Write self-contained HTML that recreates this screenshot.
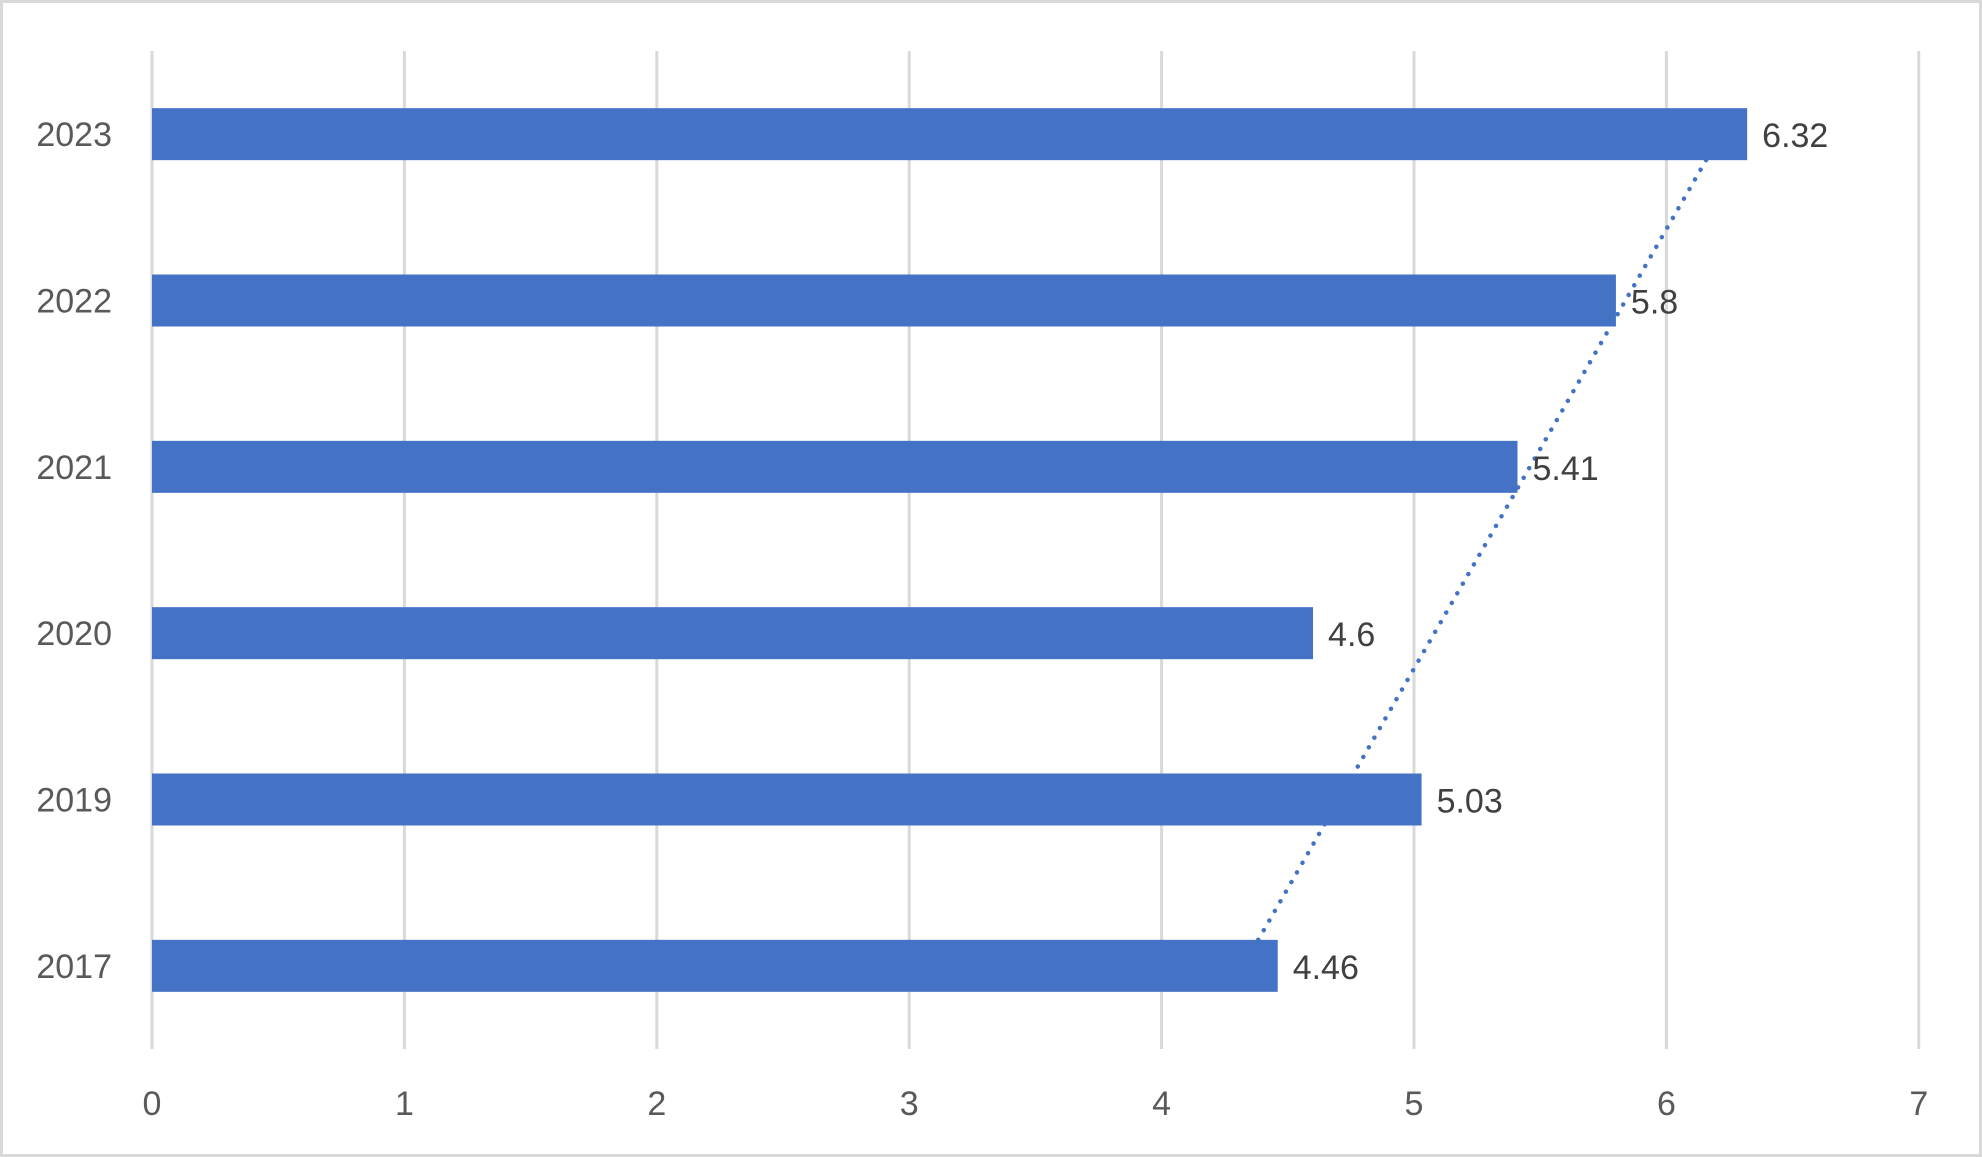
<!DOCTYPE html>
<html><head><meta charset="utf-8"><style>
html,body{margin:0;padding:0;background:#fff}
svg{display:block}
text{font-family:"Liberation Sans",sans-serif}
</style></head><body>
<svg id="chart" width="1982" height="1157">
<rect x="1.5" y="1.5" width="1979" height="1154" fill="#fff" stroke="#d9d9d9" stroke-width="3"/>
<g id="grid"></g><g id="bars"></g><g id="trend"></g><g id="labels"></g>
</svg>
<script>
const categories = ["2023","2022","2021","2020","2019","2017"];
const values = [6.32,5.8,5.41,4.6,5.03,4.46];
const valueLabels = ["6.32","5.8","5.41","4.6","5.03","4.46"];
const xTicks = [0,1,2,3,4,5,6,7];
const NS="http://www.w3.org/2000/svg";
const x0=152, xUnit=252.4, plotTop=51, plotBottom=1049;
const band=(plotBottom-plotTop)/categories.length, barH=52;
function xs(v){return x0+v*xUnit;}
function yc(i){return plotTop+band*(i+0.5);}
function mk(tag,attrs,parent){const e=document.createElementNS(NS,tag);for(const k in attrs)e.setAttribute(k,attrs[k]);document.getElementById(parent).appendChild(e);return e;}
xTicks.forEach(t=>{
  const l=mk('line',{x1:xs(t),x2:xs(t),y1:plotTop,y2:plotBottom,stroke:'#d9d9d9','stroke-width':3},'grid');
  
  
  const tx=mk('text',{x:xs(t),y:1115,'text-anchor':'middle','font-size':34,fill:'#595959'},'labels');
  tx.textContent=t;
  
  
});
categories.forEach((c,i)=>{
  const r=mk('rect',{x:xs(0),y:yc(i)-barH/2,width:xs(values[i])-xs(0),height:barH,fill:'#4472c4'},'bars');
  
  
  const yl=mk('text',{x:112,y:yc(i)+12,'text-anchor':'end','font-size':34,fill:'#595959'},'labels');
  yl.textContent=c;
  
  
  const vl=mk('text',{x:xs(values[i])+15,y:yc(i)+13,'font-size':34,fill:'#404040'},'labels');
  vl.textContent=valueLabels[i];
  
  
});
const n=values.length;
const chron=values.slice().reverse();
let mx=(n-1)/2,my=chron.reduce((a,b)=>a+b,0)/n,sxy=0,sxx=0;
chron.forEach((v,k)=>{sxy+=(k-mx)*(v-my);sxx+=(k-mx)*(k-mx);});
const slope=sxy/sxx, icpt=my-slope*mx;
const tStart=icpt, tEnd=icpt+slope*(n-1);
const tl=mk('line',{x1:xs(tStart),y1:yc(n-1)-26,x2:xs(tEnd),y2:yc(0)+26,stroke:'#4472c4','stroke-width':4.5,'stroke-dasharray':'0.1 11','stroke-linecap':'round'},'trend');


</script>
</body></html>
